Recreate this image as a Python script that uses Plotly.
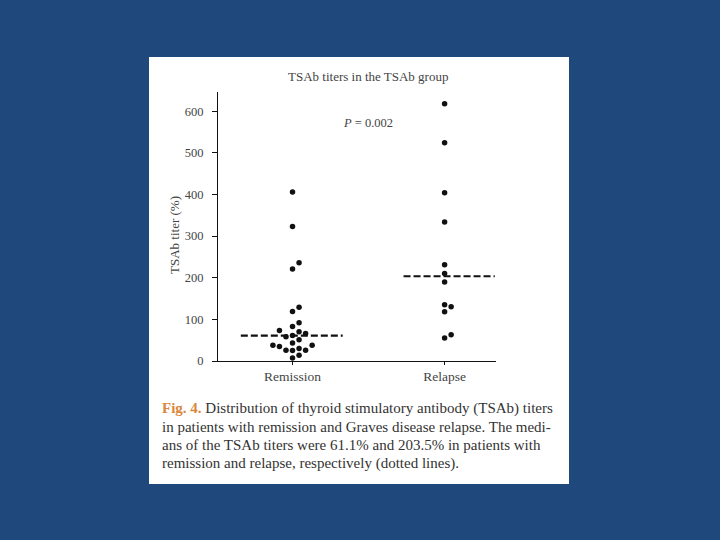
import plotly.graph_objects as go

# ---- data ----
categories = ["Remission", "Relapse"]
remission_values = [406, 323, 236, 221, 129, 119, 92, 83, 73, 70, 66, 61, 58, 51, 43,
                    38, 38, 35, 30, 26, 26, 25, 14, 7]
relapse_values = [618, 524, 404, 334, 231, 210, 190, 135, 130, 118, 63, 55]
medians = [61.1, 203.5]
y_ticks = [0, 100, 200, 300, 400, 500, 600]

# ---- layout geometry (pixels) ----
W, H = 720, 540
L, R, T, B = 218, 224, 92, 179
PW, PH = W - L - R, H - T - B


def px(x):
    return (x - L) / PW


def py(y):
    return (H - B - y) / PH


def beeswarm(values, step=0.043, thresh=16):
    """Assign horizontal offsets so close values don't overlap."""
    order = sorted(range(len(values)), key=lambda i: values[i])
    placed = []
    offs = [0.0] * len(values)
    slots = [0, 1, -1, 2, -2, 3, -3]
    for i in order:
        v = values[i]
        for s in slots:
            if all(not (ps == s and abs(pv - v) < thresh) for pv, ps in placed):
                placed.append((v, s))
                offs[i] = s * step
                break
    return offs


fig = go.Figure()
groups = [remission_values, relapse_values]
for gi, vals in enumerate(groups):
    offs = beeswarm(vals)
    fig.add_trace(go.Scatter(
        x=[gi + o for o in offs], y=vals, mode="markers",
        marker=dict(color="#111111", size=5.5),
        showlegend=False, hoverinfo="y"))

median_half = [(-0.34, 0.33), (-0.27, 0.33)]
for gi, m in enumerate(medians):
    a, b = median_half[gi]
    fig.add_trace(go.Scatter(
        x=[gi + a, gi + b], y=[m, m], mode="lines",
        line=dict(color="#111111", width=2.2, dash="7px,3px"),
        showlegend=False, hoverinfo="skip"))

serif = "Liberation Serif, Times New Roman, serif"
txt = "#444444"

fig.update_layout(
    width=W, height=H,
    margin=dict(l=L, r=R, t=T, b=B),
    paper_bgcolor="#1F497D",
    plot_bgcolor="white",
    font=dict(family=serif, color=txt, size=12),
    xaxis=dict(range=[-0.49, 1.338], tickvals=[0, 1], ticktext=categories,
               showline=True, linecolor="#111111", linewidth=1.2,
               ticks="outside", ticklen=3, tickcolor="#111111",
               showgrid=False, zeroline=False, fixedrange=True,
               tickfont=dict(size=13.5, color=txt)),
    yaxis=dict(range=[0, 646], tickvals=y_ticks,
               showline=True, linecolor="#111111", linewidth=1.2,
               ticks="outside", ticklen=5, tickcolor="#111111",
               ticklabelstandoff=6,
               showgrid=False, zeroline=False, fixedrange=True,
               tickfont=dict(size=12.5, color=txt)),
)

# white figure panel
fig.add_shape(type="rect", xref="paper", yref="paper",
              x0=px(149), x1=px(569), y0=py(484), y1=py(57),
              fillcolor="white", line=dict(width=0), layer="below")

ann = []
ann.append(dict(text="TSAb titers in the TSAb group", x=px(368), y=py(77),
                font=dict(size=13, color=txt)))
ann.append(dict(text="<i>P</i> = 0.002", x=px(368), y=py(123),
                font=dict(size=12.5, color=txt)))
ann.append(dict(text="TSAb titer (%)", x=px(174), y=py(235), textangle=-90,
                font=dict(size=13, color=txt)))

cap_lines = [
    "<b><span style='color:#D8873C'>Fig. 4.</span></b> Distribution of thyroid stimulatory antibody (TSAb) titers",
    "in patients with remission and Graves disease relapse. The medi-",
    "ans of the TSAb titers were 61.1% and 203.5% in patients with",
    "remission and relapse, respectively (dotted lines).",
]
cap_y = [408, 427, 445, 463]
for line, yy in zip(cap_lines, cap_y):
    ann.append(dict(text=line, x=px(160), y=py(yy), xanchor="left",
                    font=dict(size=15, color="#333333")))

for a in ann:
    a.setdefault("xanchor", "center")
    a.update(xref="paper", yref="paper", yanchor="middle", showarrow=False)
    fig.add_annotation(**a)

fig.write_html("out.html", config={"displayModeBar": False},
               post_script="document.body.style.margin='0';")
